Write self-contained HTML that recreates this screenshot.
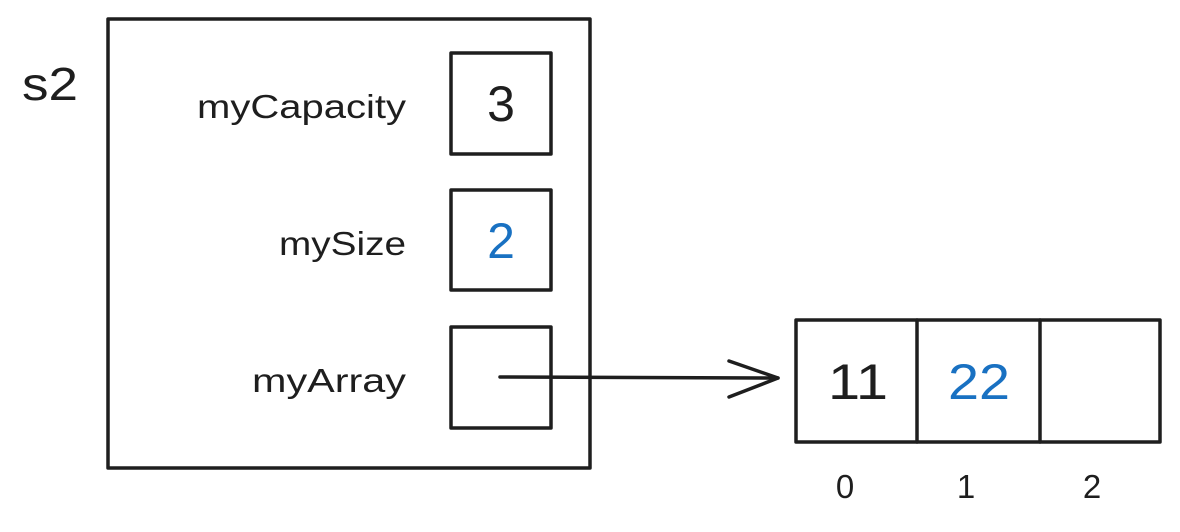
<!DOCTYPE html>
<html><head><style>html,body{margin:0;padding:0;background:#fff}</style></head>
<body>
<svg width="1180" height="532" xmlns="http://www.w3.org/2000/svg" style="display:block">
<g fill="none" stroke="#1e1e1e" stroke-width="3.5" stroke-linecap="round" stroke-linejoin="round">
<rect x="108" y="19" width="482" height="449"/>
<rect x="451" y="53" width="100" height="101"/>
<rect x="451" y="190" width="100" height="100"/>
<rect x="451" y="327" width="100" height="101"/>
<rect x="796" y="320" width="364" height="122"/>
<line x1="917" y1="320" x2="917" y2="442"/>
<line x1="1040" y1="320" x2="1040" y2="442"/>
<line x1="500" y1="377" x2="778" y2="378"/>
<polyline points="729,361 778,378 729,397"/>
</g>
<g font-family="Liberation Sans, sans-serif" fill="#1e1e1e">
<text x="22" y="100" font-size="46" textLength="56" lengthAdjust="spacingAndGlyphs">s2</text>
<text x="197" y="118" font-size="33" textLength="209" lengthAdjust="spacingAndGlyphs">myCapacity</text>
<text x="279" y="255" font-size="33" textLength="127" lengthAdjust="spacingAndGlyphs">mySize</text>
<text x="252" y="392" font-size="33" textLength="154" lengthAdjust="spacingAndGlyphs">myArray</text>
<text x="501" y="121" font-size="50" text-anchor="middle">3</text>
<text x="501" y="258" font-size="50" text-anchor="middle" fill="#1971c2">2</text>
<text x="828" y="399" font-size="50" textLength="60" lengthAdjust="spacingAndGlyphs">11</text>
<text x="948" y="399" font-size="50" textLength="62" lengthAdjust="spacingAndGlyphs" fill="#1971c2">22</text>
<text x="845" y="498" font-size="33" text-anchor="middle">0</text>
<text x="966" y="498" font-size="33" text-anchor="middle">1</text>
<text x="1092" y="498" font-size="33" text-anchor="middle">2</text>
</g>
</svg>
</body></html>
